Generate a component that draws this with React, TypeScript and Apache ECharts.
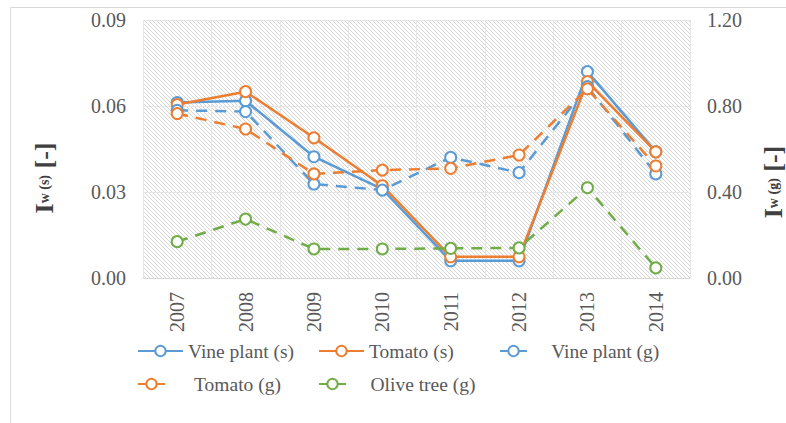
import React, { useEffect, useRef } from "react";
import * as echarts from "echarts";

const years = ["2007", "2008", "2009", "2010", "2011", "2012", "2013", "2014"];
const vinePlantS = [0.0612, 0.0618, 0.0423, 0.031, 0.006, 0.006, 0.072, 0.044];
const tomatoS = [0.0605, 0.065, 0.0489, 0.0322, 0.0074, 0.0074, 0.0685, 0.044];
const vinePlantG = [0.78, 0.774, 0.437, 0.409, 0.561, 0.49, 0.89, 0.484];
const tomatoG = [0.765, 0.693, 0.484, 0.502, 0.51, 0.572, 0.88, 0.521];
const oliveTreeG = [0.169, 0.274, 0.135, 0.135, 0.138, 0.14, 0.42, 0.047];

const leftTicks = { min: 0, max: 0.09, interval: 0.03 };
const rightTicks = { min: 0, max: 1.2, interval: 0.4 };

const BLUE = "#5b9bd5";
const ORANGE = "#ed7d31";
const GREEN = "#70ad47";
const FONT = "Liberation Serif";
const TXT = "#595959";

function makeHatch() {
  const c = document.createElement("canvas");
  c.width = 4;
  c.height = 4;
  const ctx = c.getContext("2d")!;
  ctx.fillStyle = "#ffffff";
  ctx.fillRect(0, 0, 4, 4);
  ctx.fillStyle = "#d6d6d6";
  for (let i = 0; i < 4; i++) ctx.fillRect(i, i, 1, 1);
  return c;
}

export default function App() {
  const ref = useRef<HTMLDivElement>(null);
  useEffect(() => {
    if (!ref.current) return;
    const chart = echarts.init(ref.current, null, { renderer: "svg" });
    const hatch = makeHatch();

    const mk = (name: string, data: number[], color: string, dashed: boolean, yAxisIndex: number) => ({
      name,
      type: "line",
      yAxisIndex,
      data,
      symbol: "emptyCircle",
      symbolSize: 11,
      showSymbol: true,
      lineStyle: { color, width: 2.5, type: dashed ? [11, 8] : "solid" },
      itemStyle: { color, borderWidth: 2 },
      z: 3,
    });

    const legendText = { fontFamily: FONT, fontSize: 19.5, color: TXT };
    const solidLegend = (name: string, left: number, top: number) => ({
      data: [name],
      left,
      top,
      padding: 0,
      itemWidth: 45,
      itemHeight: 13,
      textStyle: legendText,
      selectedMode: false,
    });
    const dashLegend = (name: string, left: number, top: number, pad: string) => ({
      data: [name],
      left,
      top,
      padding: 0,
      itemWidth: 27,
      itemHeight: 13,
      textStyle: legendText,
      selectedMode: false,
      formatter: (n: string) => pad + n,
    });

    const titleRich = {
      a: { fontFamily: FONT, fontSize: 26, fontWeight: "bold", fill: "#404040" },
      b: { fontFamily: FONT, fontSize: 14, fontWeight: "bold", fill: "#404040" },
    };

    const option: any = {
      animation: false,
      grid: {
        left: 143,
        right: 96,
        top: 20,
        bottom: 145,
        show: true,
        borderWidth: 0,
        backgroundColor: { image: hatch, repeat: "repeat", imageWidth: 4, imageHeight: 4 },
      },
      legend: [
        solidLegend("Vine plant (s)", 137, 341),
        solidLegend("Tomato (s)", 318, 341),
        dashLegend("Vine plant (g)", 499, 341, "    "),
        dashLegend("Tomato (g)", 137, 374, "     "),
        dashLegend("Olive tree (g)", 318, 374, "    "),
      ],
      xAxis: {
        type: "category",
        data: years,
        boundaryGap: true,
        axisLine: { show: true, lineStyle: { color: "#d9d9d9", width: 1 } },
        axisTick: { show: false },
        splitLine: { show: true, interval: 0, lineStyle: { color: "#e6e6e6", width: 1 } },
        axisLabel: { rotate: 90, margin: 14, fontFamily: FONT, fontSize: 20, color: TXT, interval: 0 },
      },
      yAxis: [
        {
          type: "value",
          ...leftTicks,
          axisLine: { show: false },
          axisTick: { show: false },
          splitLine: { show: true, lineStyle: { color: "#e6e6e6", width: 1 } },
          axisLabel: {
            margin: 17,
            fontFamily: FONT,
            fontSize: 20,
            color: TXT,
            formatter: (v: number) => v.toFixed(2),
          },
        },
        {
          type: "value",
          ...rightTicks,
          position: "right",
          axisLine: { show: false },
          axisTick: { show: false },
          splitLine: { show: false },
          axisLabel: {
            margin: 17,
            fontFamily: FONT,
            fontSize: 20,
            color: TXT,
            formatter: (v: number) => v.toFixed(2),
          },
        },
      ],
      series: [
        mk("Vine plant (s)", vinePlantS, BLUE, false, 0),
        mk("Tomato (s)", tomatoS, ORANGE, false, 0),
        mk("Vine plant (g)", vinePlantG, BLUE, true, 1),
        mk("Tomato (g)", tomatoG, ORANGE, true, 1),
        mk("Olive tree (g)", oliveTreeG, GREEN, true, 1),
      ],
      graphic: [
        {
          type: "rect",
          silent: true,
          shape: { x: 10.5, y: 7.5, width: 1000, height: 1000 },
          style: { fill: "none", stroke: "#d9d9d9", lineWidth: 1 },
          z: -1,
        },
        {
          type: "text",
          x: 44,
          y: 178,
          rotation: Math.PI / 2,
          style: {
            text: "{a|I}{b|w (s)}{a| [-]}",
            align: "center",
            verticalAlign: "middle",
            rich: titleRich,
          },
        },
        {
          type: "text",
          x: 773,
          y: 182,
          rotation: Math.PI / 2,
          style: {
            text: "{a|I}{b|w (g)}{a| [-]}",
            align: "center",
            verticalAlign: "middle",
            rich: titleRich,
          },
        },
      ],
    };
    chart.setOption(option);
    return () => chart.dispose();
  }, []);
  return (
    <div
      ref={ref}
      style={{ position: "fixed", left: 0, top: 0, width: 786, height: 423, background: "#fff" }}
    />
  );
}
